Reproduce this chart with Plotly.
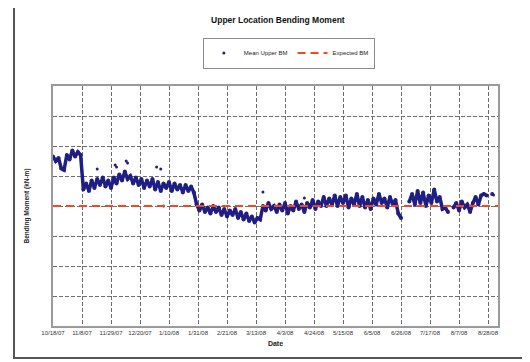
import plotly.graph_objects as go
import pandas as pd

# Tick labels (every 21 days)
tick_labels = ["10/18/07", "11/8/07", "11/29/07", "12/20/07", "1/10/08", "1/31/08",
               "2/21/08", "3/13/08", "4/3/08", "4/24/08", "5/15/08", "6/5/08",
               "6/26/08", "7/17/08", "8/7/08", "8/28/08"]

# Mean upper bending moment, sampled every 2 days from 10/18/07 (None = data gap)
start_date = "2007-10-18"
mean_bm = [
    5.65, 5.5, 5.6, 5.25, 5.2, 5.7, 5.55, 5.85, 5.65, 5.8, 5.7,
    4.55, 4.75, 4.5, 4.85, 4.6, 4.9, 4.7, 4.95, 4.65, 4.85, 4.6, 4.95, 4.75,
    5.05, 4.85, 5.15, 4.9, 5.0, 4.75, 4.95, 4.7, 4.9, 4.6, 4.85, 4.65, 4.9,
    4.55, 4.8, 4.5, 4.75, 4.6, 4.8, 4.5, 4.75, 4.55, 4.7, 4.45, 4.7, 4.5,
    4.65, 4.45,
    4.05, 3.85, 4.05, 3.8, 3.95, 3.75, 4.0, 3.8, 3.95, 3.7, 3.9, 3.65, 3.85,
    3.7, 3.9, 3.6, 3.8, 3.55, 3.75, 3.5, 3.65, 3.45, 3.6, 3.55,
    4.0, 3.85, 4.1, 3.9, 4.0, 3.8, 4.05, 3.85, 4.1, 3.75, 4.0, 3.85, 4.15,
    3.9, 4.05, 3.8, 4.1, 3.95, 4.2, 3.9, 4.15, 4.0, 4.3, 4.0, 4.25, 4.05,
    4.35, 4.0, 4.3, 4.1, 4.35, 3.95, 4.25, 4.05, 4.4, 4.0, 4.3, 3.95, 4.2,
    3.9, 4.25, 4.05, 4.4, 4.1, 4.25, 3.95, 4.3, 4.05, 4.2, 3.75, 3.6,
    None, None,
    4.15, 4.4, 4.05, 4.5, 4.1, 4.45, 4.0, 4.35, 4.1, 4.55, 4.15, 4.3, 3.9,
    3.95, 3.8,
    None,
    3.95, 4.1, 3.85, 4.15, 3.95, 4.05, 3.8, 4.1, 4.3, 4.05, 4.35, 4.4, 4.35,
    None, 4.4,
]

# Scattered individual readings above/below the band
outlier_dates = ["2007-11-19", "2007-12-02", "2007-12-03", "2007-12-10", "2007-12-11",
                 "2008-01-01", "2008-01-04", "2008-01-06", "2008-03-18", "2008-04-17",
                 "2008-09-01"]
outlier_bm = [5.23, 5.37, 5.3, 5.5, 5.43, 5.3, 5.23, 4.0, 4.47, 4.27, 4.37]

expected_bm = 4.0
expected_dates = ["2007-10-18 00:00", "2008-09-04 05:00"]

dates = pd.date_range(start_date, periods=len(mean_bm), freq="2D")
tick_vals = pd.date_range(start_date, periods=len(tick_labels), freq="21D")

fig = go.Figure()

fig.add_trace(go.Scatter(
    x=dates, y=mean_bm, mode="lines+markers",
    line=dict(color="#1e1e84", width=3.5),
    marker=dict(color="#1e1e84", size=4),
    connectgaps=False, showlegend=False, hoverinfo="skip"))

fig.add_trace(go.Scatter(
    x=pd.to_datetime(outlier_dates), y=outlier_bm, mode="markers",
    marker=dict(color="#1e1e84", size=3),
    name="Mean Upper BM"))

fig.add_trace(go.Scatter(
    x=expected_dates, y=[expected_bm, expected_bm], mode="lines",
    line=dict(color="#f04a1e", width=2, dash="8px,5px"),
    name="Expected BM"))

grid = dict(showgrid=True, gridcolor="#6e6e6e", gridwidth=1, griddash="4px,2px",
            showline=True, linecolor="#9a9a9a", linewidth=1.5, mirror=True,
            zeroline=False, automargin=False)

fig.update_layout(
    width=522, height=354,
    margin=dict(l=45, r=32, t=78, b=36, autoexpand=False),
    paper_bgcolor="white", plot_bgcolor="white",
    font=dict(family="Liberation Sans, Arial, sans-serif", color="#222"),
    title=dict(text="<b>Upper Location Bending Moment</b>", x=0.517, xanchor="center",
               y=0.966, yanchor="middle", font=dict(size=8.5, color="#111")),
    legend=dict(orientation="h", x=0.53, xanchor="center", y=1.1375, yanchor="middle",
                bordercolor="#8a8a8a", borderwidth=1, bgcolor="white",
                font=dict(size=6, color="#222"), itemwidth=30),
    xaxis=dict(range=["2007-10-18 00:00", "2008-09-04 05:00"], tickvals=tick_vals,
               ticktext=tick_labels, tickfont=dict(size=6, color="#333"),
               ticks="", title=dict(text="<b>Date</b>", font=dict(size=7, color="#222"),
                                    standoff=6), **grid),
    yaxis=dict(range=[0, 8], dtick=1, showticklabels=False, ticks="",
               title=dict(text="<b>Bending Moment (kN-m)</b>", font=dict(size=6.5, color="#222"),
                          standoff=21), **grid),
    shapes=[dict(type="rect", xref="paper", yref="paper",
                 x0=-0.0876, x1=1.074, y0=-0.133, y1=1.333,
                 line=dict(color="#555", width=2), layer="below")],
)

fig.write_html("out.html")
